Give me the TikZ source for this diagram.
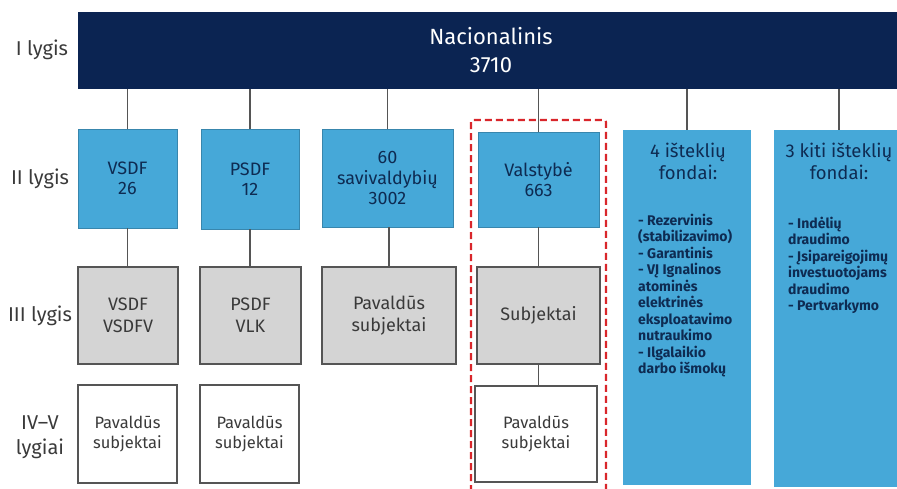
\documentclass[tikz,border=0pt]{standalone}
\usepackage{fontspec}
\setmainfont{Fira Sans}
\definecolor{navy}{HTML}{0B2452}
\definecolor{skyb}{HTML}{46A8D8}
\definecolor{boxgray}{HTML}{D4D4D4}
\definecolor{edgegray}{HTML}{555555}
\definecolor{txtnavy}{HTML}{0E2B52}
\definecolor{txtgray}{HTML}{3A3A3A}
\definecolor{dashred}{HTML}{D9262B}
\begin{document}
\begin{tikzpicture}[x=1pt,y=-1pt,
  bar/.style={fill=navy,text=white,inner sep=0pt,align=center,
    font=\fontsize{22}{28}\selectfont},
  bluebox/.style={fill=skyb,draw=skyb!80!black,line width=0.6pt,inner sep=0pt,align=center,
    text=txtnavy,font=\fontsize{18}{20.5}\selectfont},
  fundbox/.style={fill=skyb,inner sep=0pt},
  graybox/.style={fill=boxgray,draw=edgegray,line width=1.2pt,inner sep=0pt,align=center,
    text=txtgray,font=\fontsize{18}{22}\selectfont},
  whitebox/.style={fill=white,draw=edgegray,line width=1.2pt,inner sep=0pt,align=center,
    text=txtgray,font=\fontsize{16.5}{19.5}\selectfont},
  lvl/.style={align=center,text=txtgray,font=\fontsize{20}{25}\selectfont},
  fundhead/.style={align=center,text=txtnavy,font=\fontsize{18.5}{22}\selectfont},
  fundlist/.style={align=left,text=txtnavy,inner sep=0pt,font=\bfseries\fontsize{14}{16.5}\selectfont},
  conn/.style={draw=edgegray,line width=1.2pt},
  redframe/.style={draw=dashred,line width=2.2pt,dash pattern=on 7pt off 4pt,rounded corners=2pt}
]
\useasboundingbox (0,0) rectangle (897,488);

% level labels
\node[lvl] (l1) at (42,50) {I lygis};
\node[lvl] (l2) at (40,179) {II lygis};
\node[lvl] (l3) at (40,316) {III lygis};
\node[lvl] (l4) at (40,437) {IV–V\\lygiai};

% level I
\node[bar,minimum width=826pt,minimum height=77pt] (nat) at (491,50.5) {Nacionalinis\\3710};

% level II
\node[bluebox,minimum width=99pt,minimum height=99pt] (vsdf) at (127.5,178.5) {VSDF\\26};
\node[bluebox,minimum width=98pt,minimum height=100pt] (psdf) at (250,179) {PSDF\\12};
\node[bluebox,minimum width=131pt,minimum height=98pt] (sav) at (387.5,178) {60\\savivaldybių\\3002};
\node[bluebox,minimum width=121pt,minimum height=95pt] (val) at (538.5,179.5) {Valstybė\\663};
\node[fundbox,minimum width=128pt,minimum height=355pt] (f4) at (687,307.5) {};
\node[fundbox,minimum width=130pt,minimum height=357pt] (f3) at (839,308.5) {};
\node[fundhead] (f4h) at (688,161) {4 išteklių\\fondai:};
\node[fundhead] (f3h) at (839,161) {3 kiti išteklių\\fondai:};
\node[fundlist,anchor=north west] (f4l) at (638,213.5) {- Rezervinis\\(stabilizavimo)\\- Garantinis\\- VĮ Ignalinos\\atominės\\elektrinės\\eksploatavimo\\nutraukimo\\- Ilgalaikio\\darbo išmokų};
\node[fundlist,anchor=north west] (f3l) at (788,216.5) {- Indėlių\\draudimo\\- Įsipareigojimų\\investuotojams\\draudimo\\- Pertvarkymo};

% level III
\node[graybox,minimum width=100pt,minimum height=97pt] (vsdf3) at (128,315.5) {VSDF\\VSDFV};
\node[graybox,minimum width=101pt,minimum height=97pt] (psdf3) at (250.5,315.5) {PSDF\\VLK};
\node[graybox,minimum width=134pt,minimum height=97pt] (sav3) at (389,315.5) {Pavaldūs\\subjektai};
\node[graybox,minimum width=123pt,minimum height=97pt] (val3) at (538.5,315.5) {Subjektai};

% level IV-V
\node[whitebox,minimum width=99pt,minimum height=98pt] (vsdf4) at (127.5,434) {Pavaldūs\\subjektai};
\node[whitebox,minimum width=99pt,minimum height=98pt] (psdf4) at (249.5,434) {Pavaldūs\\subjektai};
\node[whitebox,minimum width=122pt,minimum height=96pt] (val4) at (536,434) {Pavaldūs\\subjektai};

% connectors
\foreach \b in {vsdf,psdf,sav,val,f4,f3}
  \draw[conn] (nat.south -| \b.north) -- (\b.north);
\draw[conn] (vsdf.south) -- (vsdf.south |- vsdf3.north);
\draw[conn] (psdf.south) -- (psdf.south |- psdf3.north);
\draw[conn] (sav.south -| sav3.north) -- (sav3.north);
\draw[conn] (val.south) -- (val.south |- val3.north);
\draw[conn] (val3.south -| val.south) -- (val.south |- val4.north);

% red dashed frame
\coordinate (rbl) at (471,492);
\coordinate (rtl) at (471,120);
\coordinate (rtr) at (606,120);
\coordinate (rbr) at (606,492);
\draw[redframe] (rbl) -- (rtl) -- (rtr) -- (rbr);
\end{tikzpicture}
\end{document}
